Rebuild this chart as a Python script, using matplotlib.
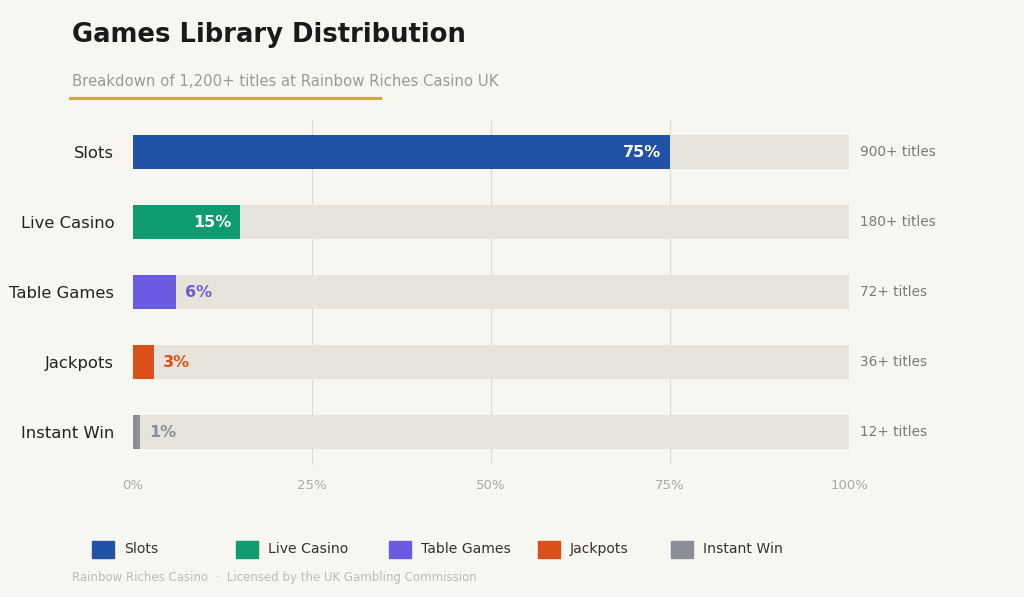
import matplotlib.pyplot as plt
from matplotlib.patches import Rectangle

plt.rcParams['font.family'] = ['DejaVu Sans']

categories = ["Slots", "Live Casino", "Table Games", "Jackpots", "Instant Win"]
shares = [75, 15, 6, 3, 1]
title_counts = ["900+ titles", "180+ titles", "72+ titles", "36+ titles", "12+ titles"]
colours = ["#2152A6", "#0E9B70", "#6B5BE2", "#DB5019", "#8B8D98"]
ticks = [0, 25, 50, 75, 100]

bg = "#F7F6F1"
W, H = 1024, 597

fig = plt.figure(figsize=(W / 100, H / 100), dpi=100, facecolor=bg)
ax = fig.add_axes([133 / W, 1 - 465 / H, (849 - 133) / W, (465 - 120) / H])
ax.set_facecolor(bg)

y = list(range(len(categories)))
ax.barh(y, [100] * len(y), height=0.49, color="#E6E4DA", zorder=2)
ax.barh(y, shares, height=0.49, color=colours, zorder=3)

for i, (v, c) in enumerate(zip(shares, colours)):
    if v >= 10:
        ax.text(v - 1.3, i, "%d%%" % v, ha="right", va="center", color="white",
                fontsize=11.5, fontweight="bold", zorder=4)
    else:
        ax.text(v + 1.2, i, "%d%%" % v, ha="left", va="center", color=c,
                fontsize=11.5, fontweight="bold", zorder=4)
    ax.text(101.6, i, title_counts[i], ha="left", va="center", color="#7A7A7A",
            fontsize=9.8, clip_on=False)

ax.set_xlim(0, 100)
ax.set_ylim(4.47, -0.457)
ax.set_yticks(y)
ax.set_yticklabels(categories, fontsize=11.8, color="#222222")
ax.set_xticks(ticks)
ax.set_xticklabels(["%d%%" % t for t in ticks], fontsize=9.5, color="#AAAAAA")
ax.tick_params(axis="y", length=0, pad=13.5)
ax.tick_params(axis="x", length=0, pad=10)
for t in ticks[1:]:
    ax.axvline(t, color="#DDDBD3", lw=0.9, zorder=1)
for s in ax.spines.values():
    s.set_visible(False)

fig.text(72 / W, 1 - 35 / H, "Games Library Distribution", fontsize=18.6,
         fontweight="bold", color="#1A1A1A", va="center", ha="left")
fig.text(72 / W, 1 - 81 / H, "Breakdown of 1,200+ titles at Rainbow Riches Casino UK",
         fontsize=10.7, color="#9A9A9A", va="center", ha="left")
fig.add_artist(plt.Line2D([70 / W, 380 / W], [1 - 98 / H, 1 - 98 / H],
                          color="#D4A843", lw=2.2))

legend_x = [92, 236, 389, 538, 671]
for x, name, c in zip(legend_x, categories, colours):
    fig.add_artist(Rectangle((x / W, 1 - 558 / H), 22 / W, 17 / H,
                             color=c, transform=fig.transFigure))
    fig.text((x + 32) / W, 1 - 549 / H, name, fontsize=10.1, color="#333333",
             va="center", ha="left")

fig.text(72 / W, 1 - 578 / H,
         "Rainbow Riches Casino  \u00b7  Licensed by the UK Gambling Commission",
         fontsize=8.5, color="#BBBBBB", va="center", ha="left")

fig.savefig("out.png", dpi=100, facecolor=bg)
